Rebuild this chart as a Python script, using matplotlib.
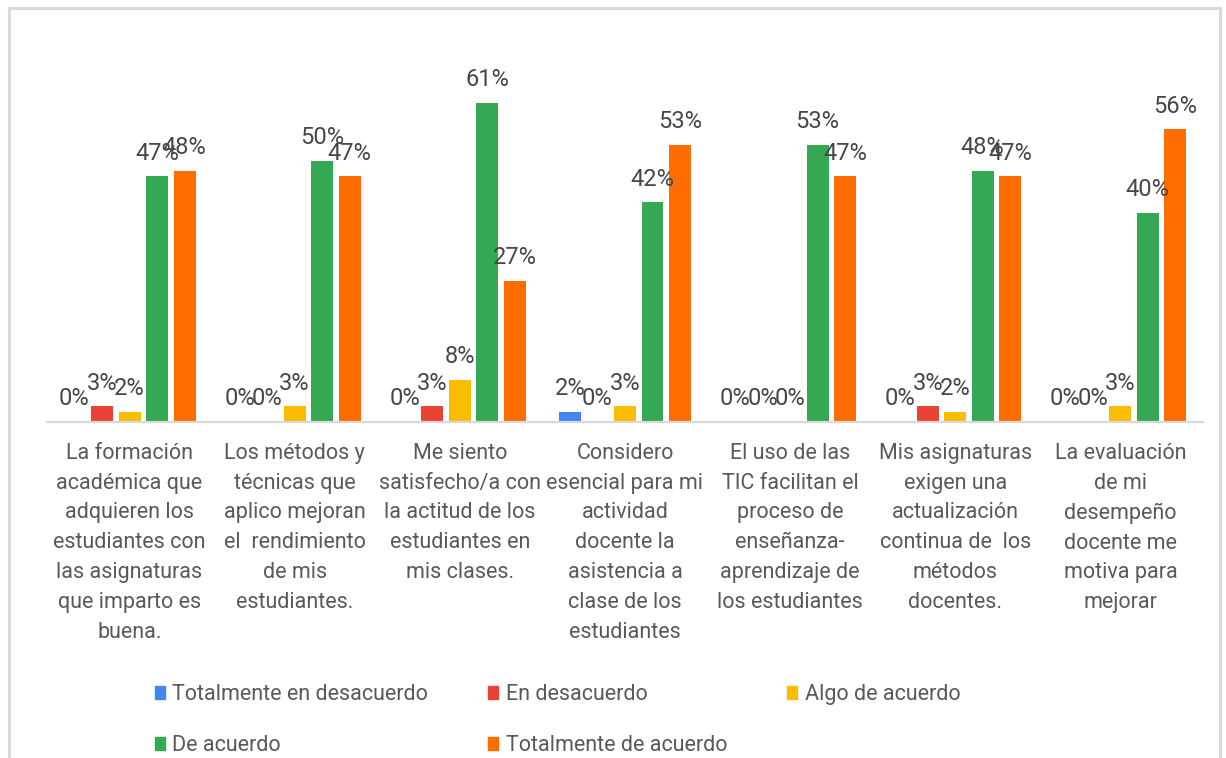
import matplotlib
matplotlib.use("Agg")
from matplotlib import pyplot as plt
from matplotlib.patches import Rectangle, Patch
import numpy as np

plt.rcParams['font.family'] = ['Roboto', 'DejaVu Sans']

categories = [
    "La formación\nacadémica que\nadquieren los\nestudiantes con\nlas asignaturas\nque imparto es\nbuena.",
    "Los métodos y\ntécnicas que\naplico mejoran\nel  rendimiento\nde mis\nestudiantes.",
    "Me siento\nsatisfecho/a con\nla actitud de los\nestudiantes en\nmis clases.",
    "Considero\nesencial para mi\nactividad\ndocente la\nasistencia a\nclase de los\nestudiantes",
    "El uso de las\nTIC facilitan el\nproceso de\nenseñanza-\naprendizaje de\nlos estudiantes",
    "Mis asignaturas\nexigen una\nactualización\ncontinua de  los\nmétodos\ndocentes.",
    "La evaluación\nde mi\ndesempeño\ndocente me\nmotiva para\nmejorar",
]

series_names = ["Totalmente en desacuerdo", "En desacuerdo", "Algo de acuerdo",
                "De acuerdo", "Totalmente de acuerdo"]
totalmente_desacuerdo = [0, 0, 0, 2, 0, 0, 0]
en_desacuerdo = [3, 0, 3, 0, 0, 3, 0]
algo_acuerdo = [2, 3, 8, 3, 0, 2, 3]
de_acuerdo = [47, 50, 61, 42, 53, 48, 40]
totalmente_acuerdo = [48, 47, 27, 53, 47, 47, 56]

values = [totalmente_desacuerdo, en_desacuerdo, algo_acuerdo, de_acuerdo, totalmente_acuerdo]
colors = ['#4285F4', '#EA4335', '#FBBC04', '#34A853', '#FF6D01']

fig = plt.figure(figsize=(12.26, 7.58), dpi=100)
ax = fig.add_axes([0.0383, 0.4433, 0.9429, 0.4828])

x = np.arange(len(categories))
pitch = 0.1667
width = 0.133
handles = []
for i, (name, vals, col) in enumerate(zip(series_names, values, colors)):
    bars = ax.bar(x + (i - 2) * pitch, vals, width, color=col, label=name)
    handles.append(Patch(color=col, label=name))
    for b, v in zip(bars, vals):
        ax.annotate(f"{v}%", (b.get_x() + b.get_width() / 2, v),
                    xytext=(0, 12), textcoords='offset points',
                    ha='center', va='baseline', fontsize=17, color='#474747')

ax.set_xlim(-0.5, len(categories) - 0.5)
ax.set_ylim(0, 70)
ax.set_yticks([])
for s in ['top', 'right', 'left']:
    ax.spines[s].set_visible(False)
ax.spines['bottom'].set_color('#d9d9d9')
ax.spines['bottom'].set_linewidth(1.6)
ax.set_xticks(x)
ax.set_xticklabels(categories, fontsize=15.5, color='#595959', linespacing=1.55)
ax.tick_params(axis='x', length=0, pad=15)

# legend, filled row by row like the original
order = [0, 3, 1, 4, 2]
fig.legend([handles[k] for k in order], [series_names[k] for k in order],
           loc='upper left', bbox_to_anchor=(0.1264, 0.098), ncol=3,
           frameon=False, fontsize=15.5, handlelength=0.47, handleheight=0.55,
           handletextpad=0.33, columnspacing=2.8, labelspacing=1.4,
           borderpad=0, borderaxespad=0, labelcolor='#595959')

# outer frame
fig.patches.append(Rectangle((9 / 1226, -0.05), 1211 / 1226, 1.05 - 8 / 758,
                             transform=fig.transFigure, fill=False,
                             edgecolor='#d9d9d9', linewidth=2.2))

fig.savefig('out.png', dpi=100)
